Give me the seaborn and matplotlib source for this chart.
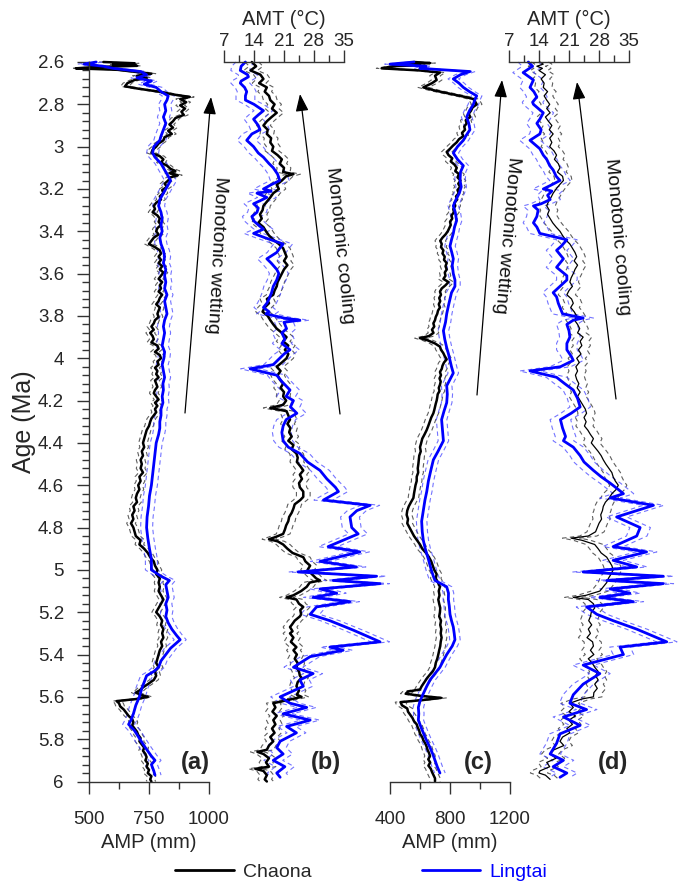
import numpy as np
import pandas as pd
import matplotlib
matplotlib.use("Agg")
import matplotlib.pyplot as plt
import seaborn as sns
from matplotlib.lines import Line2D
from matplotlib.ticker import FixedLocator, FuncFormatter

sns.set_style("ticks")
plt.rcParams["font.family"] = ["Liberation Sans", "DejaVu Sans"]
plt.rcParams["axes.labelsize"] = 14

# ---------------- data: (age Ma, value) ----------------
# Panel (a): AMP (mm)
CHAONA_AMP_A = [
    (2.600, 560), (2.606, 690), (2.612, 600), (2.618, 700), (2.624, 520), (2.630, 445), (2.637, 620), (2.645, 680),
    (2.655, 760), (2.665, 700), (2.675, 740), (2.685, 690), (2.700, 660), (2.715, 650), (2.725, 700), (2.740, 790),
    (2.755, 860), (2.765, 920), (2.775, 880), (2.790, 905), (2.805, 880), (2.820, 900), (2.835, 885), (2.850, 895),
    (2.865, 860), (2.880, 850), (2.895, 835), (2.910, 850), (2.925, 830), (2.940, 845), (2.955, 815), (2.970, 810),
    (2.985, 790), (3.000, 780), (3.015, 765), (3.030, 760), (3.045, 795), (3.060, 810), (3.075, 800), (3.090, 825),
    (3.105, 840), (3.115, 860), (3.125, 835), (3.135, 870), (3.145, 840), (3.160, 830), (3.175, 815), (3.190, 825),
    (3.205, 805), (3.220, 810), (3.235, 795), (3.250, 800), (3.265, 780), (3.280, 770), (3.295, 775), (3.310, 765),
    (3.325, 785), (3.340, 795), (3.355, 790), (3.370, 800), (3.385, 785), (3.400, 780), (3.415, 790), (3.430, 770),
    (3.445, 760), (3.460, 750), (3.475, 775), (3.490, 795), (3.505, 800), (3.520, 790), (3.535, 800), (3.550, 790),
    (3.565, 805), (3.580, 795), (3.595, 810), (3.610, 800), (3.625, 790), (3.640, 805), (3.655, 795), (3.670, 800),
    (3.685, 790), (3.700, 805), (3.715, 795), (3.730, 790), (3.745, 780), (3.760, 795), (3.775, 790), (3.790, 785),
    (3.805, 790), (3.820, 775), (3.835, 770), (3.850, 760), (3.865, 770), (3.880, 755), (3.895, 765), (3.910, 770),
    (3.925, 760), (3.940, 785), (3.955, 790), (3.970, 775), (3.985, 795), (4.000, 800), (4.015, 785), (4.030, 790),
    (4.045, 775), (4.060, 785), (4.075, 780), (4.090, 790), (4.105, 775), (4.120, 780), (4.135, 785), (4.150, 775),
    (4.165, 770), (4.180, 780), (4.195, 790), (4.210, 775), (4.225, 785), (4.240, 775), (4.255, 780), (4.270, 770),
    (4.285, 760), (4.300, 755), (4.320, 750), (4.340, 740), (4.360, 735), (4.380, 730), (4.400, 725), (4.420, 730),
    (4.440, 720), (4.460, 725), (4.480, 715), (4.500, 720), (4.520, 715), (4.540, 725), (4.560, 710), (4.580, 715),
    (4.600, 705), (4.620, 710), (4.640, 700), (4.660, 695), (4.680, 700), (4.700, 685), (4.720, 690), (4.740, 680),
    (4.760, 685), (4.780, 675), (4.800, 685), (4.820, 690), (4.840, 695), (4.860, 715), (4.880, 710), (4.900, 730),
    (4.920, 745), (4.940, 755), (4.960, 770), (4.980, 775), (5.000, 785), (5.020, 780), (5.040, 795), (5.060, 790),
    (5.080, 795), (5.100, 790), (5.120, 800), (5.140, 810), (5.160, 800), (5.180, 790), (5.200, 780), (5.220, 795),
    (5.240, 805), (5.260, 800), (5.280, 810), (5.300, 805), (5.320, 810), (5.340, 800), (5.360, 805), (5.380, 795),
    (5.400, 790), (5.420, 785), (5.440, 780), (5.460, 790), (5.480, 775), (5.500, 780), (5.520, 770), (5.540, 745),
    (5.555, 725), (5.570, 710), (5.580, 695), (5.590, 715), (5.600, 745), (5.610, 700), (5.620, 615), (5.630, 625),
    (5.645, 630), (5.660, 645), (5.675, 655), (5.690, 665), (5.705, 680), (5.720, 685), (5.735, 680), (5.750, 690),
    (5.765, 700), (5.780, 705), (5.795, 715), (5.810, 710), (5.825, 720), (5.840, 730), (5.855, 725), (5.870, 735),
    (5.885, 740), (5.900, 735), (5.915, 745), (5.930, 740), (5.945, 750), (5.960, 745), (5.975, 760), (5.990, 755),
    (6.000, 760),
]
LINGTAI_AMP_A = [
    (2.600, 530), (2.610, 480), (2.620, 560), (2.630, 600), (2.645, 715), (2.660, 740), (2.675, 700), (2.690, 760),
    (2.705, 730), (2.720, 780), (2.740, 800), (2.760, 830), (2.780, 825), (2.800, 815), (2.830, 820), (2.860, 810),
    (2.890, 820), (2.920, 810), (2.950, 800), (2.970, 795), (3.000, 770), (3.030, 765), (3.050, 775), (3.080, 800),
    (3.100, 810), (3.130, 825), (3.160, 840), (3.190, 825), (3.220, 810), (3.250, 795), (3.280, 790), (3.310, 800),
    (3.340, 805), (3.370, 800), (3.400, 805), (3.430, 795), (3.460, 800), (3.490, 810), (3.520, 815), (3.550, 810),
    (3.580, 820), (3.610, 815), (3.640, 820), (3.670, 815), (3.700, 825), (3.730, 815), (3.760, 820), (3.790, 825),
    (3.820, 815), (3.850, 810), (3.880, 815), (3.910, 810), (3.940, 805), (3.970, 815), (4.000, 812), (4.030, 805),
    (4.060, 810), (4.090, 815), (4.120, 808), (4.150, 810), (4.180, 805), (4.210, 808), (4.240, 800), (4.270, 800),
    (4.300, 795), (4.330, 795), (4.360, 790), (4.400, 780), (4.450, 775), (4.500, 770), (4.550, 765), (4.600, 760),
    (4.650, 752), (4.700, 748), (4.750, 742), (4.800, 740), (4.850, 745), (4.900, 752), (4.950, 760), (5.000, 760),
    (5.030, 800), (5.050, 835), (5.070, 820), (5.100, 825), (5.130, 830), (5.160, 820), (5.190, 825), (5.220, 820),
    (5.250, 830), (5.280, 845), (5.310, 865), (5.330, 880), (5.350, 860), (5.370, 840), (5.400, 820), (5.430, 800),
    (5.460, 790), (5.480, 770), (5.500, 740), (5.530, 730), (5.560, 720), (5.600, 710), (5.640, 695), (5.680, 685),
    (5.710, 675), (5.730, 665), (5.760, 690), (5.800, 712), (5.840, 735), (5.880, 760), (5.900, 775), (5.920, 760),
    (5.950, 770), (5.970, 775),
]

# Panel (b): AMT (deg C)
CHAONA_AMT_B = [
    (2.60, 13.5), (2.62, 14.5), (2.64, 13.2), (2.66, 15.5), (2.68, 16.2), (2.70, 15.2), (2.72, 17.0), (2.74, 16.5),
    (2.76, 17.5), (2.78, 17.8), (2.80, 18.8), (2.82, 18.2), (2.84, 19.3), (2.86, 18.1), (2.88, 17.0), (2.90, 16.2),
    (2.92, 17.2), (2.94, 17.0), (2.96, 18.0), (2.98, 17.8), (3.00, 18.5), (3.02, 18.2), (3.04, 19.5), (3.06, 20.5),
    (3.08, 20.0), (3.10, 21.0), (3.12, 20.8), (3.13, 23.2), (3.14, 21.5), (3.16, 20.5), (3.18, 19.3), (3.20, 19.8),
    (3.22, 18.5), (3.24, 17.8), (3.26, 17.0), (3.28, 16.2), (3.30, 16.0), (3.32, 15.4), (3.34, 15.8), (3.36, 15.0),
    (3.38, 16.2), (3.40, 16.8), (3.42, 17.5), (3.44, 18.5), (3.46, 19.8), (3.48, 20.8), (3.50, 21.2), (3.52, 21.6),
    (3.54, 21.0), (3.56, 21.8), (3.58, 21.0), (3.60, 20.5), (3.62, 20.0), (3.64, 19.5), (3.66, 19.3), (3.68, 18.8),
    (3.70, 18.5), (3.72, 17.0), (3.74, 17.5), (3.76, 16.5), (3.78, 16.0), (3.80, 17.2), (3.82, 17.8), (3.84, 18.5),
    (3.86, 19.3), (3.88, 20.5), (3.90, 21.6), (3.92, 20.8), (3.94, 22.0), (3.96, 21.2), (3.98, 22.0), (4.00, 21.6),
    (4.02, 20.5), (4.04, 19.3), (4.06, 20.2), (4.08, 19.5), (4.10, 20.0), (4.12, 20.8), (4.14, 20.2), (4.16, 21.0),
    (4.18, 20.8), (4.20, 21.5), (4.22, 20.8), (4.235, 17.8), (4.25, 21.6), (4.27, 22.0), (4.29, 22.4), (4.31, 21.8),
    (4.33, 22.5), (4.35, 22.2), (4.37, 22.8), (4.39, 22.0), (4.41, 23.2), (4.43, 22.8), (4.45, 23.9), (4.47, 24.2),
    (4.49, 24.0), (4.51, 24.8), (4.53, 25.5), (4.55, 24.7), (4.57, 25.2), (4.59, 24.5), (4.61, 24.7), (4.63, 25.5),
    (4.655, 25.5), (4.67, 24.8), (4.69, 23.5), (4.71, 23.2), (4.73, 22.8), (4.75, 22.2), (4.77, 22.0), (4.79, 21.5),
    (4.81, 21.2), (4.83, 20.8), (4.845, 19.0), (4.855, 17.5), (4.865, 19.5), (4.88, 20.8), (4.90, 21.8), (4.92, 23.0),
    (4.94, 25.5), (4.96, 26.0), (4.98, 27.1), (5.00, 26.5), (5.02, 27.5), (5.04, 28.5), (5.05, 29.4), (5.06, 27.0),
    (5.08, 26.3), (5.10, 25.0), (5.12, 23.2), (5.13, 21.6), (5.14, 23.9), (5.16, 24.5), (5.175, 25.5), (5.19, 24.8),
    (5.21, 25.0), (5.22, 24.7), (5.24, 23.5), (5.26, 22.8), (5.27, 22.4), (5.29, 23.0), (5.30, 22.4), (5.32, 23.2),
    (5.34, 22.6), (5.365, 23.9), (5.38, 23.2), (5.40, 24.0), (5.42, 23.5), (5.44, 24.2), (5.46, 23.9), (5.48, 24.5),
    (5.50, 24.7), (5.51, 25.1), (5.53, 24.2), (5.55, 23.9), (5.57, 24.5), (5.59, 24.0), (5.60, 25.1), (5.61, 23.0),
    (5.63, 18.5), (5.65, 19.0), (5.67, 18.3), (5.69, 19.3), (5.71, 18.5), (5.73, 19.0), (5.75, 18.2), (5.77, 18.8),
    (5.79, 17.8), (5.81, 18.5), (5.83, 17.5), (5.85, 17.0), (5.86, 14.8), (5.87, 16.2), (5.89, 17.5), (5.91, 16.8),
    (5.93, 17.5), (5.94, 14.3), (5.95, 16.2), (5.97, 17.0), (5.99, 16.5), (6.00, 17.0),
]
LINGTAI_AMT_B = [
    (2.60, 12.0), (2.62, 11.0), (2.64, 10.8), (2.66, 12.5), (2.67, 12.7), (2.69, 11.0), (2.70, 10.8), (2.72, 11.8),
    (2.74, 12.3), (2.76, 12.0), (2.78, 12.0), (2.80, 14.0), (2.83, 16.2), (2.85, 15.0), (2.87, 13.9), (2.90, 15.0),
    (2.92, 15.4), (2.94, 13.5), (2.97, 12.3), (3.00, 13.9), (3.03, 15.0), (3.05, 16.2), (3.08, 17.5), (3.10, 18.5),
    (3.13, 19.5), (3.16, 20.0), (3.18, 18.0), (3.20, 16.2), (3.21, 18.0), (3.22, 14.7), (3.24, 17.0), (3.25, 16.0),
    (3.27, 13.9), (3.29, 15.0), (3.31, 14.7), (3.33, 13.5), (3.35, 13.9), (3.37, 15.0), (3.39, 16.2), (3.41, 13.9),
    (3.43, 16.5), (3.46, 20.8), (3.48, 20.0), (3.50, 19.3), (3.53, 17.0), (3.55, 18.0), (3.58, 19.3), (3.60, 19.8),
    (3.63, 19.3), (3.66, 18.5), (3.69, 18.1), (3.72, 17.5), (3.74, 17.0), (3.76, 16.2), (3.78, 17.5), (3.79, 16.8),
    (3.81, 21.0), (3.82, 24.7), (3.83, 21.0), (3.86, 21.6), (3.88, 20.5), (3.91, 21.2), (3.93, 20.5), (3.96, 22.4),
    (3.98, 21.0), (4.00, 20.0), (4.03, 18.5), (4.05, 13.1), (4.08, 19.3), (4.11, 20.5), (4.15, 22.4), (4.18, 21.5),
    (4.20, 23.2), (4.23, 22.5), (4.26, 24.0), (4.29, 21.5), (4.32, 20.8), (4.35, 20.5), (4.39, 20.8), (4.42, 22.0),
    (4.45, 24.7), (4.49, 26.5), (4.53, 29.4), (4.57, 31.0), (4.61, 33.0), (4.63, 33.7), (4.67, 30.2), (4.695, 41.1),
    (4.72, 38.0), (4.75, 36.4), (4.80, 36.8), (4.83, 38.3), (4.89, 31.3), (4.915, 38.7), (4.96, 29.4), (4.986, 37.9),
    (5.01, 24.3), (5.03, 42.6), (5.05, 32.5), (5.065, 43.4), (5.09, 29.4), (5.11, 33.3), (5.13, 27.8), (5.15, 36.4),
    (5.175, 28.6), (5.21, 27.1), (5.24, 31.7), (5.285, 37.2), (5.34, 43.4), (5.365, 31.7), (5.38, 34.8), (5.41, 27.1),
    (5.46, 23.2), (5.49, 27.8), (5.52, 24.7), (5.55, 25.5), (5.60, 20.1), (5.63, 22.4), (5.65, 26.3), (5.68, 20.8),
    (5.71, 27.1), (5.74, 21.6), (5.77, 23.9), (5.81, 20.1), (5.84, 19.3), (5.87, 20.8), (5.90, 18.5), (5.93, 21.2),
    (5.96, 19.3), (5.98, 20.1),
]

# Panel (c): AMP (mm)
CHAONA_AMP_C = [
    (2.600, 560), (2.605, 667), (2.610, 500), (2.615, 600), (2.620, 420), (2.630, 344), (2.640, 600), (2.650, 733),
    (2.665, 700), (2.685, 711), (2.700, 680), (2.720, 622), (2.735, 700), (2.750, 800), (2.765, 900), (2.775, 956),
    (2.790, 970), (2.800, 978), (2.815, 950), (2.830, 940), (2.845, 925), (2.860, 935), (2.875, 905), (2.890, 911),
    (2.905, 895), (2.920, 900), (2.935, 880), (2.950, 889), (2.965, 860), (2.980, 844), (2.995, 820), (3.010, 800),
    (3.025, 778), (3.040, 790), (3.055, 815), (3.070, 805), (3.085, 830), (3.100, 845), (3.115, 835), (3.130, 860),
    (3.145, 850), (3.160, 870), (3.175, 855), (3.190, 867), (3.205, 850), (3.220, 858), (3.235, 840), (3.250, 848),
    (3.265, 830), (3.280, 835), (3.295, 822), (3.310, 826), (3.325, 810), (3.340, 815), (3.355, 800), (3.370, 805),
    (3.385, 795), (3.400, 785), (3.415, 770), (3.430, 750), (3.445, 735), (3.460, 745), (3.475, 740), (3.490, 756),
    (3.505, 750), (3.520, 765), (3.535, 760), (3.550, 778), (3.565, 770), (3.580, 778), (3.595, 765), (3.610, 770),
    (3.625, 756), (3.640, 790), (3.655, 770), (3.670, 745), (3.685, 733), (3.700, 740), (3.715, 728), (3.730, 735),
    (3.745, 725), (3.760, 733), (3.775, 720), (3.790, 715), (3.805, 705), (3.820, 700), (3.835, 689), (3.850, 695),
    (3.865, 680), (3.880, 690), (3.895, 660), (3.905, 600), (3.915, 650), (3.930, 700), (3.945, 733), (3.960, 740),
    (3.975, 755), (3.990, 765), (4.005, 778), (4.020, 760), (4.035, 750), (4.050, 745), (4.065, 733), (4.080, 740),
    (4.095, 730), (4.110, 738), (4.125, 733), (4.140, 725), (4.155, 730), (4.170, 718), (4.185, 715), (4.200, 711),
    (4.215, 705), (4.230, 700), (4.245, 695), (4.260, 689), (4.280, 675), (4.300, 665), (4.320, 655), (4.340, 644),
    (4.360, 630), (4.380, 615), (4.400, 608), (4.420, 600), (4.440, 605), (4.460, 595), (4.480, 592), (4.500, 589),
    (4.520, 585), (4.540, 588), (4.560, 578), (4.580, 578), (4.600, 570), (4.620, 565), (4.640, 560), (4.660, 556),
    (4.680, 540), (4.700, 525), (4.720, 515), (4.740, 511), (4.760, 520), (4.780, 515), (4.800, 530), (4.820, 545),
    (4.840, 560), (4.860, 580), (4.880, 600), (4.900, 615), (4.920, 640), (4.940, 660), (4.960, 675), (4.980, 685),
    (5.000, 695), (5.020, 711), (5.040, 705), (5.060, 720), (5.080, 733), (5.100, 725), (5.120, 730), (5.140, 722),
    (5.160, 728), (5.180, 735), (5.200, 733), (5.220, 728), (5.240, 740), (5.260, 735), (5.280, 742), (5.300, 738),
    (5.320, 744), (5.340, 738), (5.360, 735), (5.380, 728), (5.400, 722), (5.420, 715), (5.440, 705), (5.460, 700),
    (5.480, 685), (5.500, 660), (5.515, 644), (5.530, 630), (5.550, 611), (5.565, 600), (5.575, 520), (5.585, 505),
    (5.595, 600), (5.605, 740), (5.615, 620), (5.625, 470), (5.640, 480), (5.655, 515), (5.670, 520), (5.685, 535),
    (5.700, 550), (5.715, 560), (5.730, 578), (5.745, 585), (5.760, 595), (5.775, 600), (5.790, 615), (5.805, 622),
    (5.820, 635), (5.835, 644), (5.850, 650), (5.865, 660), (5.880, 667), (5.895, 655), (5.910, 668), (5.925, 656),
    (5.940, 672), (5.955, 680), (5.970, 690), (5.985, 700), (6.000, 700),
]
LINGTAI_AMP_C = [
    (2.600, 560), (2.610, 400), (2.620, 640), (2.630, 600), (2.645, 933), (2.660, 870), (2.680, 822), (2.700, 860),
    (2.720, 889), (2.740, 930), (2.760, 978), (2.780, 965), (2.800, 956), (2.830, 930), (2.860, 911), (2.890, 925),
    (2.920, 933), (2.950, 905), (2.970, 889), (3.000, 850), (3.030, 822), (3.060, 850), (3.090, 889), (3.120, 870),
    (3.160, 867), (3.190, 875), (3.220, 862), (3.250, 840), (3.280, 822), (3.310, 835), (3.350, 844), (3.380, 830),
    (3.410, 822), (3.440, 810), (3.470, 800), (3.500, 812), (3.530, 822), (3.560, 815), (3.600, 822), (3.630, 833),
    (3.660, 833), (3.690, 810), (3.720, 800), (3.750, 790), (3.790, 778), (3.830, 770), (3.870, 756), (3.910, 765),
    (3.950, 778), (3.980, 790), (4.010, 800), (4.040, 810), (4.070, 822), (4.100, 800), (4.130, 778), (4.170, 782),
    (4.210, 778), (4.250, 760), (4.290, 744), (4.340, 750), (4.390, 756), (4.440, 720), (4.480, 689), (4.530, 672),
    (4.580, 656), (4.630, 645), (4.670, 633), (4.720, 622), (4.770, 611), (4.820, 615), (4.860, 622), (4.900, 635),
    (4.950, 656), (5.000, 675), (5.030, 689), (5.050, 700), (5.080, 778), (5.110, 790), (5.140, 789), (5.170, 795),
    (5.210, 800), (5.240, 810), (5.270, 822), (5.300, 828), (5.330, 833), (5.360, 815), (5.400, 778), (5.430, 755),
    (5.460, 733), (5.490, 700), (5.520, 667), (5.550, 645), (5.585, 622), (5.620, 600), (5.650, 589), (5.680, 592),
    (5.710, 589), (5.740, 605), (5.770, 622), (5.800, 640), (5.840, 667), (5.870, 685), (5.900, 700), (5.930, 715),
    (5.960, 733),
]

# Panel (d): AMT (deg C)
CHAONA_AMT_D = [
    (2.60, 14.2), (2.61, 15.0), (2.62, 13.5), (2.63, 14.8), (2.64, 14.0), (2.66, 15.5), (2.68, 14.5), (2.70, 15.2),
    (2.72, 15.0), (2.74, 16.0), (2.76, 15.2), (2.78, 15.8), (2.80, 16.5), (2.82, 15.8), (2.84, 16.6), (2.86, 15.5),
    (2.88, 16.2), (2.90, 17.0), (2.92, 16.4), (2.94, 17.3), (2.96, 16.5), (2.98, 17.0), (3.00, 16.5), (3.02, 17.5),
    (3.04, 18.1), (3.06, 17.6), (3.08, 18.5), (3.10, 18.9), (3.12, 18.3), (3.14, 19.5), (3.16, 19.7), (3.18, 18.8),
    (3.20, 18.0), (3.22, 17.3), (3.24, 16.8), (3.26, 16.2), (3.28, 15.8), (3.30, 16.4), (3.32, 16.0), (3.34, 16.6),
    (3.36, 17.2), (3.38, 18.0), (3.40, 18.9), (3.42, 19.5), (3.44, 20.2), (3.46, 21.2), (3.48, 21.8), (3.50, 22.4),
    (3.52, 22.8), (3.54, 22.2), (3.56, 23.0), (3.58, 22.4), (3.60, 22.0), (3.62, 21.5), (3.64, 21.2), (3.66, 21.8),
    (3.68, 21.0), (3.70, 20.5), (3.72, 21.6), (3.74, 22.0), (3.76, 21.4), (3.78, 22.2), (3.80, 22.8), (3.82, 22.3),
    (3.84, 23.0), (3.86, 23.5), (3.88, 23.0), (3.90, 24.3), (3.92, 23.6), (3.94, 24.0), (3.96, 23.2), (3.98, 23.8),
    (4.00, 22.8), (4.02, 23.4), (4.04, 22.6), (4.06, 23.0), (4.08, 22.5), (4.10, 22.8), (4.12, 23.3), (4.14, 22.9),
    (4.16, 23.6), (4.18, 23.0), (4.20, 23.6), (4.22, 24.2), (4.24, 24.8), (4.26, 25.1), (4.28, 24.5), (4.30, 25.0),
    (4.32, 24.6), (4.34, 25.4), (4.36, 26.0), (4.38, 26.7), (4.40, 26.2), (4.42, 27.0), (4.44, 27.8), (4.46, 28.5),
    (4.48, 29.0), (4.50, 29.6), (4.52, 30.3), (4.54, 31.0), (4.56, 31.3), (4.58, 31.8), (4.60, 32.5), (4.62, 32.0),
    (4.64, 31.0), (4.66, 30.4), (4.68, 29.5), (4.70, 29.0), (4.72, 28.8), (4.74, 28.4), (4.76, 28.6), (4.78, 28.0),
    (4.80, 27.6), (4.82, 27.2), (4.84, 25.5), (4.85, 21.5), (4.86, 24.0), (4.88, 27.0), (4.90, 27.8), (4.92, 28.5),
    (4.94, 29.8), (4.96, 30.4), (4.98, 31.0), (5.00, 31.3), (5.02, 30.8), (5.04, 30.2), (5.06, 29.8), (5.08, 29.0),
    (5.10, 28.2), (5.12, 25.0), (5.13, 22.0), (5.14, 25.5), (5.16, 26.7), (5.18, 27.0), (5.20, 26.2), (5.22, 26.0),
    (5.24, 25.6), (5.26, 26.3), (5.28, 25.5), (5.30, 26.0), (5.32, 25.2), (5.34, 26.5), (5.36, 26.7), (5.38, 26.0),
    (5.40, 26.8), (5.42, 25.5), (5.44, 26.4), (5.46, 27.0), (5.48, 27.8), (5.50, 27.2), (5.52, 27.8), (5.54, 27.0),
    (5.56, 27.6), (5.58, 26.8), (5.60, 26.7), (5.61, 24.0), (5.63, 21.2), (5.65, 22.0), (5.67, 21.0), (5.69, 22.5),
    (5.71, 21.0), (5.73, 21.8), (5.75, 20.5), (5.77, 21.2), (5.79, 19.5), (5.81, 18.9), (5.83, 19.8), (5.85, 17.5),
    (5.87, 16.6), (5.89, 18.0), (5.91, 15.8), (5.93, 16.5), (5.95, 14.2), (5.96, 14.0), (5.97, 15.5), (5.99, 16.6),
]
LINGTAI_AMT_D = [
    (2.60, 11.5), (2.62, 12.5), (2.65, 10.3), (2.685, 12.7), (2.72, 11.9), (2.74, 12.8), (2.765, 13.5), (2.79, 12.5),
    (2.80, 12.7), (2.84, 15.0), (2.87, 14.2), (2.89, 13.5), (2.92, 14.5), (2.94, 14.2), (2.97, 11.9), (3.01, 14.2),
    (3.04, 15.0), (3.06, 15.8), (3.09, 16.5), (3.11, 17.3), (3.14, 18.0), (3.16, 18.9), (3.18, 17.0), (3.20, 15.0),
    (3.21, 17.0), (3.23, 16.0), (3.25, 16.6), (3.27, 14.5), (3.28, 12.7), (3.30, 13.8), (3.33, 13.5), (3.36, 12.7),
    (3.38, 13.5), (3.41, 14.2), (3.44, 20.5), (3.47, 19.2), (3.49, 18.1), (3.53, 19.7), (3.57, 18.1), (3.61, 20.5),
    (3.63, 20.5), (3.66, 18.9), (3.69, 17.3), (3.71, 18.1), (3.74, 18.5), (3.76, 18.9), (3.79, 19.5), (3.81, 24.3),
    (3.82, 22.0), (3.84, 20.5), (3.87, 21.0), (3.90, 21.2), (3.93, 20.5), (3.96, 20.5), (3.99, 21.5), (4.01, 22.0),
    (4.04, 19.0), (4.06, 11.9), (4.09, 18.1), (4.12, 20.0), (4.15, 22.0), (4.19, 23.0), (4.23, 23.6), (4.26, 21.5),
    (4.29, 19.0), (4.33, 19.5), (4.37, 20.2), (4.39, 19.7), (4.42, 22.0), (4.46, 23.6), (4.49, 24.5), (4.53, 26.7),
    (4.56, 28.5), (4.59, 30.6), (4.62, 32.5), (4.64, 33.7), (4.66, 30.6), (4.695, 40.7), (4.75, 32.1), (4.80, 37.6),
    (4.84, 36.8), (4.89, 31.3), (4.915, 39.1), (4.955, 31.3), (4.986, 36.8), (5.01, 24.3), (5.03, 43.0), (5.05, 29.8),
    (5.065, 43.0), (5.09, 30.6), (5.11, 35.2), (5.13, 28.2), (5.15, 36.0), (5.175, 25.1), (5.21, 27.5), (5.24, 31.3),
    (5.28, 36.8), (5.34, 43.8), (5.365, 32.9), (5.40, 33.7), (5.45, 24.3), (5.49, 28.2), (5.54, 24.3), (5.59, 22.0),
    (5.63, 21.2), (5.66, 25.1), (5.695, 19.7), (5.735, 23.6), (5.775, 18.9), (5.82, 18.1), (5.87, 16.6), (5.90, 19.7),
    (5.93, 17.3), (5.96, 20.5), (5.98, 18.9),
]

# one-sigma widths of the dashed uncertainty envelopes
ERR_AMP_A = {"Chaona": 18, "Lingtai": 25}
ERR_AMT_B = {"Chaona": 1.6, "Lingtai": 2.2}
ERR_AMP_C = {"Chaona": 35, "Lingtai": 35}
ERR_AMT_D = {"Chaona": 2.0, "Lingtai": 2.4}

AGE_LIM = (6.0, 2.6)
AMP_A_TICKS, AMP_A_MINOR = [500, 750, 1000], [625, 875]
AMP_C_TICKS, AMP_C_MINOR = [400, 800, 1200], [600, 1000]
AMT_TICKS, AMT_MINOR = [7, 14, 21, 28, 35], [10.5, 17.5, 24.5, 31.5]
PANEL_LABELS = ["(a)", "(b)", "(c)", "(d)"]
SERIES = ["Chaona", "Lingtai"]

# ---------------- figure ----------------
W, H = 692, 888
fig = plt.figure(figsize=(W / 100, H / 100), dpi=100)

BLACK, BLUE = "#000000", "#0000ff"
GREY, LBLUE = "#4d4d4d", "#4646ff"
AXC = "#333333"
FS_TICK = 13.5
FS_LABEL = 14.5
Y0, Y1 = 62.0, 781.5          # pixel rows of the age axis ends
AX_H = Y1 - Y0


def frame(pairs):
    return pd.DataFrame(pairs, columns=["age", "value"])


def px_axes(x0, x1):
    ax = fig.add_axes([x0 / W, 1 - Y1 / H, (x1 - x0) / W, AX_H / H])
    ax.set_facecolor("none")
    for s in ax.spines.values():
        s.set_visible(False)
    return ax


def draw(ax, ch, lt, err, ch_lw):
    dch, dlt = frame(ch), frame(lt)
    for df, e, col, al in [(dch, err["Chaona"], GREY, 0.9), (dlt, err["Lingtai"], LBLUE, 0.75)]:
        for sgn in (-1, 1):
            d = df.assign(value=df["value"] + sgn * e)
            sns.lineplot(data=d, x="value", y="age", orient="y", sort=False, estimator=None,
                         ax=ax, color=col, lw=0.8, alpha=al, linestyle=(0, (4, 3)), clip_on=False)
    sns.lineplot(data=dch, x="value", y="age", orient="y", sort=False, estimator=None,
                 ax=ax, color=BLACK, lw=ch_lw, clip_on=False)
    sns.lineplot(data=dlt, x="value", y="age", orient="y", sort=False, estimator=None,
                 ax=ax, color=BLUE, lw=2.0, clip_on=False)
    ax.set_ylim(*AGE_LIM)


def x_axis(ax, lim, majors, minors, side, label):
    ax.set_xlim(*lim)
    ax.xaxis.set_major_locator(FixedLocator(majors))
    ax.xaxis.set_minor_locator(FixedLocator(minors))
    ax.xaxis.set_major_formatter(FuncFormatter(lambda v, p: f"{v:g}"))
    ax.spines[side].set_visible(True)
    ax.spines[side].set_color(AXC)
    ax.spines[side].set_linewidth(1.0)
    top = side == "top"
    if top:
        ax.xaxis.tick_top()
        ax.xaxis.set_label_position("top")
    ax.tick_params(axis="x", which="both", direction="out", color=AXC, width=1.0,
                   top=top, bottom=not top, labeltop=top, labelbottom=not top)
    ax.tick_params(axis="x", which="major", length=8.5, labelsize=FS_TICK, pad=0 if top else 13)
    ax.tick_params(axis="x", which="minor", length=5)
    ax.set_xlabel(label)
    ax.xaxis.label.set_fontsize(FS_LABEL)
    if top:
        ax.xaxis.set_label_coords(0.5, 1 + (Y0 - 25) / AX_H)
    else:
        ax.xaxis.set_label_coords(0.5, -(833 - Y1) / AX_H)


# (a)
ax_a = px_axes(89, 209)
draw(ax_a, CHAONA_AMP_A, LINGTAI_AMP_A, ERR_AMP_A, 1.8)
x_axis(ax_a, (500, 1000), AMP_A_TICKS, AMP_A_MINOR, "bottom", "AMP (mm)")
ax_a.spines["left"].set_visible(True)
ax_a.spines["left"].set_color(AXC)
ax_a.spines["left"].set_linewidth(1.0)
ax_a.yaxis.set_major_locator(FixedLocator(np.round(np.arange(2.6, 6.01, 0.2), 2)))
ax_a.yaxis.set_minor_locator(FixedLocator(np.round(np.arange(2.6, 6.01, 0.04), 2)))
ax_a.yaxis.set_major_formatter(FuncFormatter(lambda v, p: f"{v:g}"))
ax_a.tick_params(axis="y", which="both", direction="out", color=AXC, width=1.0, left=True, right=False)
ax_a.tick_params(axis="y", which="major", length=9, labelsize=FS_TICK, pad=9)
ax_a.tick_params(axis="y", which="minor", length=5)
ax_a.set_ylabel("Age (Ma)")
ax_a.yaxis.label.set_fontsize(18)
ax_a.yaxis.set_label_coords((36 - 89) / 120, 0.5)

# (b)
ax_b = px_axes(224, 344)
draw(ax_b, CHAONA_AMT_B, LINGTAI_AMT_B, ERR_AMT_B, 1.8)
x_axis(ax_b, (7, 35), AMT_TICKS, AMT_MINOR, "top", "AMT (°C)")
ax_b.yaxis.set_visible(False)

# (c)
ax_c = px_axes(390, 510)
draw(ax_c, CHAONA_AMP_C, LINGTAI_AMP_C, ERR_AMP_C, 1.8)
x_axis(ax_c, (400, 1200), AMP_C_TICKS, AMP_C_MINOR, "bottom", "AMP (mm)")
ax_c.yaxis.set_visible(False)

# (d)
ax_d = px_axes(509, 629)
draw(ax_d, CHAONA_AMT_D, LINGTAI_AMT_D, ERR_AMT_D, 0.9)
x_axis(ax_d, (7, 35), AMT_TICKS, AMT_MINOR, "top", "AMT (°C)")
ax_d.yaxis.set_visible(False)

# ---------------- annotations (pixel overlay) ----------------
ov = fig.add_axes([0, 0, 1, 1], zorder=5)
ov.set_xlim(0, W)
ov.set_ylim(H, 0)
ov.axis("off")
ov.patch.set_alpha(0)

arrows = [((211, 97), (185, 413)), ((300, 94), (340, 414)),
          ((502, 80), (477, 395)), ((577, 82), (616, 399))]
for tip, tail in arrows:
    ov.annotate("", xy=tip, xytext=tail,
                arrowprops=dict(arrowstyle="-|>,head_length=0.75,head_width=0.28",
                                color="black", lw=0.9, mutation_scale=14,
                                shrinkA=0, shrinkB=0))

notes = [("Monotonic wetting", 216, 255, -93), ("Monotonic cooling", 340, 245, -84),
         ("Monotonic wetting", 507, 235, -95), ("Monotonic cooling", 617, 237, -85)]
for txt, x, y, rot in notes:
    ov.text(x, y, txt, rotation=rot, rotation_mode="anchor", ha="center", va="center",
            fontsize=14, color="#111111")

for lab, x in zip(PANEL_LABELS, [195, 326, 478, 613]):
    ov.text(x, 762, lab, ha="center", va="center", fontsize=17, fontweight="bold")

handles = [Line2D([], [], color=BLACK, lw=2.0), Line2D([], [], color=BLUE, lw=2.0)]
leg = fig.legend(handles, SERIES, loc="center", bbox_to_anchor=(0.522, 1 - 872 / H),
                 ncol=2, frameon=False, fontsize=14, handlelength=3.0,
                 handletextpad=0.45, columnspacing=5.7)
leg.get_texts()[1].set_color(BLUE)

fig.savefig("out.png", dpi=100)
